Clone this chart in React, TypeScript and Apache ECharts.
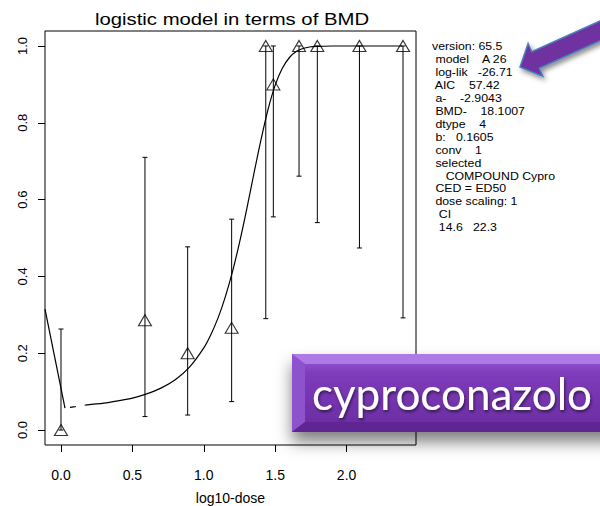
import React, { useEffect, useRef } from "react";
import * as echarts from "echarts";

// Fitted logistic curve (log10-dose, response)
const curveSolid: [number, number][] = [
  [0.17, 0.065], [0.3, 0.070], [0.4, 0.076], [0.5, 0.083], [0.6, 0.094],
  [0.7, 0.109], [0.8, 0.131], [0.9, 0.164], [1.0, 0.214], [1.05, 0.249],
  [1.1, 0.292], [1.15, 0.346], [1.2, 0.411], [1.25, 0.488], [1.3, 0.574],
  [1.35, 0.666], [1.4, 0.755], [1.45, 0.835], [1.5, 0.898], [1.55, 0.942],
  [1.6, 0.970], [1.65, 0.986], [1.7, 0.994], [1.75, 0.998], [1.8, 0.999],
  [1.9, 1.0], [2.1, 1.0], [2.39, 1.0],
];
const curveDashed: [number, number][] = [[0.028, 0.057], [0.1, 0.061], [0.17, 0.065]];
const controlLink: [number, number][] = [[-0.112, 0.315], [0.028, 0.057]];

// Observed responses
const obsX = [0, 0.588, 0.887, 1.195, 1.434, 1.487, 1.667, 1.795, 2.09, 2.395];
const obsY = [0, 0.286, 0.2, 0.266, 1.0, 0.9, 1.0, 1.0, 1.0, 1.0];
const ciLow = [0, 0.035, 0.039, 0.074, 0.29, 0.555, 0.661, 0.54, 0.474, 0.292];
const ciHigh = [0.263, 0.71, 0.477, 0.549, 1.0, 1.0, 1.0, 1.0, 1.0, 1.0];

const xTicks = [0, 0.5, 1, 1.5, 2];
const yTicks = [0, 0.2, 0.4, 0.6, 0.8, 1];

const infoLines = [
  "version: 65.5",
  " model    A 26",
  " log-lik   -26.71",
  " AIC    57.42",
  " a-    -2.9043",
  " BMD-    18.1007",
  " dtype    4",
  " b:   0.1605",
  " conv    1",
  " selected",
  "    COMPOUND Cypro",
  " CED = ED50",
  " dose scaling: 1",
  "  CI",
  "  14.6   22.3",
];

const FONT = "'Liberation Sans', Arial, Helvetica, sans-serif";

export default function App() {
  const ref = useRef<HTMLDivElement>(null);

  useEffect(() => {
    if (!ref.current) return;
    const chart = echarts.init(ref.current, undefined, { renderer: "svg" });

    const points = obsX.map((x, i) => [x, obsY[i]]);
    const bars = obsX.map((x, i) => [x, ciLow[i], ciHigh[i]]);

    const infoTexts = infoLines.map((line, i) => ({
      type: "text",
      x: 432,
      y: 46 + i * 12.93,
      scaleX: 1.12,
      z: 50,
      style: {
        text: line,
        fontSize: 11,
        fontFamily: FONT,
        fill: "#000",
        textVerticalAlign: "middle",
      },
    }));

    chart.setOption({
      animation: false,
      grid: {
        left: 45,
        top: 31,
        right: 184,
        bottom: 61,
        show: true,
        borderColor: "#000",
        borderWidth: 1,
        containLabel: false,
        outerBoundsMode: "none",
      },
      xAxis: {
        type: "value",
        min: -0.112,
        max: 2.486,
        name: "log10-dose",
        nameLocation: "middle",
        nameGap: 46,
        nameTextStyle: { fontSize: 14, fontFamily: FONT, color: "#000" },
        axisLine: { show: false, onZero: false },
        splitLine: { show: false },
        axisTick: {
          show: true,
          inside: false,
          length: 7,
          customValues: xTicks,
          lineStyle: { color: "#000", width: 1 },
        },
        axisLabel: {
          customValues: xTicks,
          formatter: (v: number) => v.toFixed(1),
          fontSize: 14,
          fontFamily: FONT,
          color: "#000",
          margin: 23,
        },
      },
      yAxis: {
        type: "value",
        min: -0.039,
        max: 1.039,
        axisLine: { show: false, onZero: false },
        splitLine: { show: false },
        axisTick: {
          show: true,
          inside: false,
          length: 7,
          customValues: yTicks,
          lineStyle: { color: "#000", width: 1 },
        },
        axisLabel: {
          customValues: yTicks,
          formatter: (v: number) => v.toFixed(1),
          rotate: 90,
          fontSize: 13,
          fontFamily: FONT,
          color: "#000",
          margin: 16,
        },
      },
      series: [
        {
          type: "line",
          data: controlLink,
          showSymbol: false,
          lineStyle: { color: "#000", width: 1.2 },
          clip: true,
        },
        {
          type: "line",
          data: curveDashed,
          showSymbol: false,
          lineStyle: { color: "#000", width: 1.2, type: [6, 9], dashOffset: -5 },
        },
        {
          type: "line",
          data: curveSolid,
          smooth: 0.3,
          showSymbol: false,
          lineStyle: { color: "#000", width: 1.2 },
        },
        {
          type: "custom",
          data: bars,
          encode: { x: 0, y: [1, 2] },
          renderItem: (params: any, api: any) => {
            const x = api.value(0);
            const lo = api.coord([x, api.value(1)]);
            const hi = api.coord([x, api.value(2)]);
            const cap = 2.5;
            const st = { stroke: "#000", lineWidth: 1 };
            return {
              type: "group",
              children: [
                { type: "line", shape: { x1: lo[0], y1: lo[1], x2: hi[0], y2: hi[1] }, style: st },
                { type: "line", shape: { x1: lo[0] - cap, y1: lo[1], x2: lo[0] + cap, y2: lo[1] }, style: st },
                { type: "line", shape: { x1: hi[0] - cap, y1: hi[1], x2: hi[0] + cap, y2: hi[1] }, style: st },
              ],
            };
          },
        },
        {
          type: "scatter",
          data: points,
          symbol: "triangle",
          symbolSize: [13, 11],
          itemStyle: { color: "rgba(0,0,0,0)", borderColor: "#000", borderWidth: 1.1 },
          z: 5,
        },
      ],
      graphic: [
        {
          type: "text",
          x: 232,
          y: 19,
          scaleX: 1.27,
          style: {
            text: "logistic model in terms of BMD",
            fontSize: 16,
            fontFamily: FONT,
            fill: "#000",
            textAlign: "center",
            textVerticalAlign: "middle",
          },
        },
        ...infoTexts,
        // call-out arrow pointing at the fit statistics
        {
          type: "polygon",
          z: 100,
          shape: {
            points: [
              [520, 67], [542.9, 76.4], [539.2, 68.2], [614.7, 34.2],
              [607.3, 17.8], [531.8, 51.8], [528.1, 43.6],
            ],
          },
          style: {
            fill: "#7030A0",
            stroke: "#4A7EBB",
            lineWidth: 1.5,
            shadowBlur: 5,
            shadowOffsetX: 2,
            shadowOffsetY: 3,
            shadowColor: "rgba(0,0,0,0.45)",
          },
        },
        // compound name banner
        {
          type: "rect",
          z: 100,
          shape: { x: 292, y: 354, width: 330, height: 78 },
          style: {
            fill: new echarts.graphic.LinearGradient(0, 0, 0, 1, [
              { offset: 0, color: "#9A5FD6" },
              { offset: 0.25, color: "#7E3CBA" },
              { offset: 1, color: "#6A2BA0" },
            ]),
            shadowBlur: 16,
            shadowOffsetY: 10,
            shadowColor: "rgba(0,0,0,0.5)",
          },
        },
        {
          type: "polygon",
          z: 101,
          shape: { points: [[292, 354], [622, 354], [612, 364], [305, 364]] },
          style: { fill: "#AE7BE6" },
        },
        {
          type: "polygon",
          z: 101,
          shape: { points: [[292, 354], [305, 364], [305, 422], [292, 432]] },
          style: { fill: "#8E52CC" },
        },
        {
          type: "polygon",
          z: 101,
          shape: { points: [[292, 432], [305, 422], [612, 422], [622, 432]] },
          style: { fill: "#5F2593" },
        },
        {
          type: "text",
          z: 102,
          x: 452,
          y: 393,
          style: {
            text: "cyproconazolo",
            fontSize: 44,
            fontFamily: "Lato, 'Open Sans', sans-serif",
            fill: "#FFFFFF",
            textAlign: "center",
            textVerticalAlign: "middle",
            textShadowColor: "rgba(0,0,0,0.55)",
            textShadowBlur: 3,
            textShadowOffsetX: 1,
            textShadowOffsetY: 2,
          },
        },
      ],
    });

    return () => chart.dispose();
  }, []);

  return <div ref={ref} style={{ width: 600, height: 506, position: "absolute", left: 0, top: 0 }} />;
}
